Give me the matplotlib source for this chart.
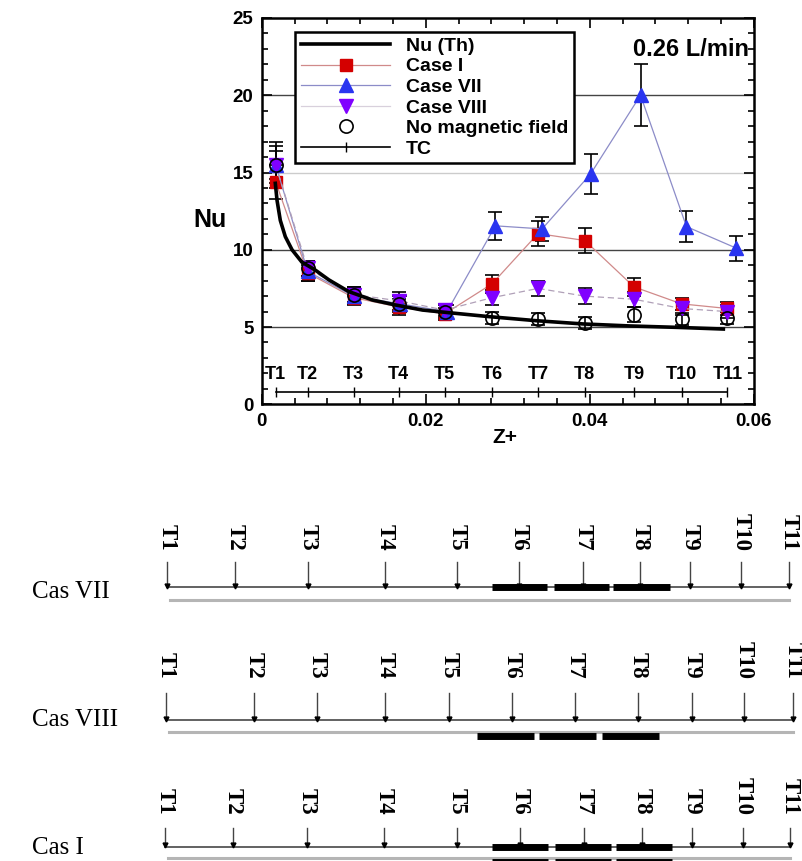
import numpy as np
import matplotlib.pyplot as plt
from matplotlib.ticker import MultipleLocator
from matplotlib.lines import Line2D

plt.rcParams['font.family'] = ['Liberation Sans', 'DejaVu Sans']

# positions des capteurs (Z+)
z_s = [0.0017, 0.0056, 0.0112, 0.0167, 0.0223, 0.0281, 0.0337, 0.0394, 0.0454, 0.0512, 0.0568]
z_b = [0.0017, 0.0056, 0.0112, 0.0169, 0.0226, 0.0285, 0.0342, 0.0401, 0.0462, 0.0518, 0.0579]
t_labels = ['T1', 'T2', 'T3', 'T4', 'T5', 'T6', 'T7', 'T8', 'T9', 'T10', 'T11']

# Nu theorique
z_th = [0.00166, 0.00187, 0.00227, 0.00288, 0.0037, 0.0049, 0.0065, 0.0082, 0.0106,
        0.0135, 0.0163, 0.0196, 0.0228, 0.0278, 0.0335, 0.0392, 0.0449, 0.0506, 0.0563]
nu_th = [14.3, 13.2, 11.9, 10.85, 10.0, 9.2, 8.7, 8.05, 7.3,
         6.75, 6.43, 6.1, 5.93, 5.67, 5.41, 5.2, 5.07, 4.98, 4.87]

# cas experimentaux
nu_I = [14.4, 8.5, 6.9, 6.3, 5.85, 7.8, 11.05, 10.6, 7.6, 6.5, 6.2]
err_I = [1.1, 0.5, 0.5, 0.5, 0.4, 0.6, 0.8, 0.8, 0.6, 0.4, 0.4]
nu_VII = [15.5, 8.6, 7.0, 6.5, 6.0, 11.55, 11.35, 14.9, 20.0, 11.5, 10.1]
err_VII = [1.5, 0.6, 0.5, 0.5, 0.4, 0.9, 0.8, 1.3, 2.0, 1.0, 0.8]
nu_VIII = [15.5, 8.8, 7.1, 6.7, 6.1, 6.9, 7.5, 7.0, 6.8, 6.2, 6.0]
err_VIII = [1.2, 0.5, 0.5, 0.6, 0.4, 0.5, 0.5, 0.5, 0.5, 0.4, 0.4]
nu_0 = [15.5, 8.8, 7.1, 6.5, 6.0, 5.6, 5.5, 5.25, 5.8, 5.5, 5.6]
err_0 = [0.9, 0.5, 0.5, 0.5, 0.4, 0.4, 0.4, 0.4, 0.5, 0.4, 0.4]

# schema des aimants (pixels)
cases = ['Cas VII', 'Cas VIII', 'Cas I']
x_VII = [167, 235, 308, 385, 457, 519, 583, 640, 690, 741, 789]
x_VIII = [166, 254, 317, 385, 449, 512, 575, 638, 692, 744, 793]
x_Icas = [165, 233, 307, 384, 457, 520, 584, 642, 692, 743, 790]
mag_VII = [(492, 547), (554, 609), (613, 670)]
mag_VIII = [(477, 534), (539, 596), (602, 659)]
mag_I = [(492, 548), (555, 611), (616, 672)]

fig = plt.figure(figsize=(8.03, 8.61), dpi=100)
ax = fig.add_axes([261.7/803, 1-404.3/861, 492/803, 386.3/861])

for yg, c in [(5, '#444444'), (10, '#444444'), (15, '#cccccc'), (20, '#444444')]:
    ax.axhline(yg, color=c, lw=1.0, zorder=0)

ax.plot(z_th, nu_th, color='black', lw=2.6, zorder=4)

eb = dict(ecolor='black', elinewidth=1.2, capsize=4.7, capthick=1.2)
c_I = '#d08a8a'
c_VII = '#8c8cc8'
c_VIII = '#b0a0b8'
ax.errorbar(z_s, nu_I, yerr=err_I, color=c_I, lw=0.9, marker='s', ms=8.5,
            mfc='#d40000', mec='#d40000', zorder=3, **eb)
ax.errorbar(z_b, nu_VII, yerr=err_VII, color=c_VII, lw=0.9, marker='^', ms=9.5,
            mfc='#2a35f0', mec='#2a35f0', zorder=3, **eb)
ax.errorbar(z_s, nu_VIII, yerr=err_VIII, color=c_VIII, lw=0.9, ls=(0, (5, 3)),
            marker='v', ms=9.5, mfc='#8000ff', mec='#8000ff', zorder=3, **eb)
ax.errorbar(z_s, nu_0, yerr=err_0, ls='none', marker='o', ms=9.5, mfc='none',
            mec='black', mew=1.2, zorder=3, **eb)

# ligne TC
ax.plot([z_s[0], z_s[-1]], [0.8, 0.8], color='black', lw=1.2, zorder=2)
ax.plot(z_s, [0.8]*len(z_s), ls='none', marker='|', ms=7, color='black', mew=1.0)
for xs, lab in zip(z_s, t_labels):
    ax.text(xs, 1.9, lab, ha='center', va='center', fontsize=13, fontweight='bold')

ax.set_xlim(0, 0.06)
ax.set_ylim(0, 25)
ax.set_xticks([0, 0.02, 0.04, 0.06])
ax.set_xticklabels(['0', '0.02', '0.04', '0.06'])
ax.set_yticks([0, 5, 10, 15, 20, 25])
ax.xaxis.set_minor_locator(MultipleLocator(0.004))
ax.yaxis.set_minor_locator(MultipleLocator(1))
ax.tick_params(which='both', direction='in', top=True, right=True, width=1.2)
ax.tick_params(which='major', length=7, labelsize=13.5, pad=6)
ax.tick_params(which='minor', length=4)
for t in ax.get_xticklabels() + ax.get_yticklabels():
    t.set_fontweight('bold')
for s in ax.spines.values():
    s.set_linewidth(1.8)

ax.set_xlabel('Z+', fontsize=15, fontweight='bold', va='center')
ax.xaxis.set_label_coords(0.4945, -0.085)
ax.set_ylabel('Nu', fontsize=18, fontweight='bold', rotation=0, va='center')
ax.yaxis.set_label_coords(-0.105, 0.477)

ax.text(0.99, 0.918, '0.26 L/min', transform=ax.transAxes, ha='right', va='center',
        fontsize=17, fontweight='bold')

handles = [
    Line2D([], [], color='black', lw=2.6),
    Line2D([], [], color=c_I, lw=0.9, marker='s', ms=8.5, mfc='#d40000', mec='#d40000'),
    Line2D([], [], color=c_VII, lw=0.9, marker='^', ms=9.5, mfc='#2a35f0', mec='#2a35f0'),
    Line2D([], [], color='#d8d0dc', lw=0.9, marker='v', ms=9.5, mfc='#8000ff', mec='#8000ff'),
    Line2D([], [], ls='none', marker='o', ms=9.5, mfc='none', mec='black', mew=1.2),
    Line2D([], [], color='black', lw=1.2, marker='|', ms=7, mew=1.0),
]
labels = ['Nu (Th)', 'Case I', 'Case VII', 'Case VIII', 'No magnetic field', 'TC']
leg = ax.legend(handles, labels, loc='upper left', bbox_to_anchor=(0.068, 0.965),
                borderaxespad=0, fancybox=False, edgecolor='black', framealpha=1,
                handlelength=4.6, handletextpad=0.8, labelspacing=0.15, borderpad=0.3,
                prop={'weight': 'bold', 'size': 14})
leg.get_frame().set_linewidth(1.8)

# schema du bas
ax2 = fig.add_axes([0, 0, 1, 381/861])
ax2.set_xlim(0, 803)
ax2.set_ylim(861, 480)
ax2.axis('off')

rows = [
    (x_VII, mag_VII, 587, 562, 551, 600, 587, 598),
    (x_VIII, mag_VIII, 720, 693, 679, 731.5, 736, 726),
    (x_Icas, mag_I, 846.5, 828, 815, 858, 846.5, 854),
]
for name, (xs, mags, y0, ya, yl, yg, yb, yc) in zip(cases, rows):
    ax2.text(32, yc, name, ha='left', va='baseline', fontsize=18,
             family='Liberation Serif')
    ax2.plot([xs[0], xs[-1]], [y0, y0], color='#555555', lw=1.3)
    ax2.plot([xs[0] + 3, xs[-1]], [yg, yg], color='#b5b5b5', lw=2.2)
    for xv, lab in zip(xs, t_labels):
        ax2.plot([xv, xv], [ya, y0 - 2], color='#444444', lw=1.0)
        ax2.plot(xv, y0 - 1.5, marker='v', ms=3.5, color='black')
        ax2.text(xv, yl, lab, rotation=-90, ha='center', va='bottom', fontsize=16.5,
                 fontweight='bold', family='Liberation Serif')
    for a, b in mags:
        ax2.plot([a, b], [yb, yb], color='black', lw=5, solid_capstyle='butt')
        if name == 'Cas I':
            ax2.plot([a, b], [862, 862], color='black', lw=5, solid_capstyle='butt')

fig.savefig('out.png', dpi=100)
